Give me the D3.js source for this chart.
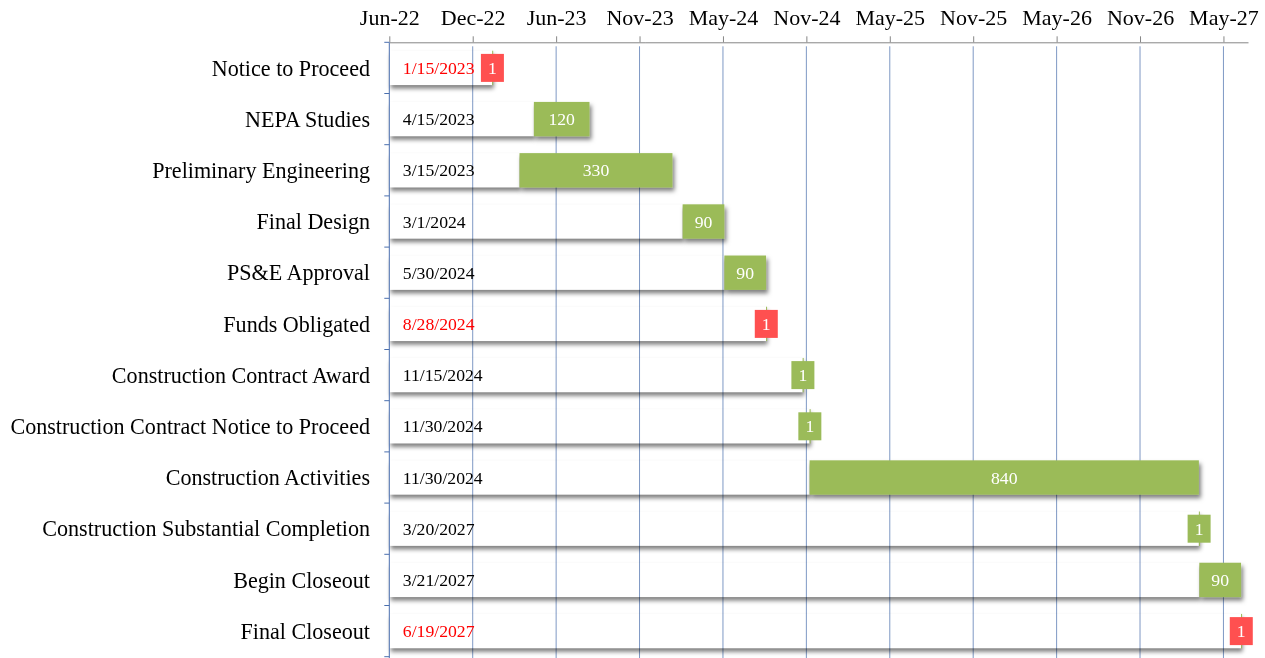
<!DOCTYPE html>
<html>
<head>
<meta charset="utf-8">
<script src="https://cdn.jsdelivr.net/npm/d3@7"></script>
<style>
  body { margin: 0; background: #fff; }
  svg { display: block; font-family: "Liberation Serif", "Times New Roman", serif; }
</style>
</head>
<body>
<svg id="chart" width="1265" height="658"></svg>
<script>
// Tasks, start dates and durations (days)
const tasks = [
    'Notice to Proceed',
    'NEPA Studies',
    'Preliminary Engineering',
    'Final Design',
    'PS&E Approval',
    'Funds Obligated',
    'Construction Contract Award',
    'Construction Contract Notice to Proceed',
    'Construction Activities',
    'Construction Substantial Completion',
    'Begin Closeout',
    'Final Closeout'
];
const startDates = [
    '1/15/2023', '4/15/2023', '3/15/2023', '3/1/2024', '5/30/2024', '8/28/2024',
    '11/15/2024', '11/30/2024', '11/30/2024', '3/20/2027', '3/21/2027', '6/19/2027'
];
const durations = [1, 120, 330, 90, 90, 1, 1, 1, 840, 1, 90, 1];
// milestones flagged in red
const milestones = ['Notice to Proceed', 'Funds Obligated', 'Final Closeout'];

const tickLabels = ['Jun-22', 'Dec-22', 'Jun-23', 'Nov-23', 'May-24', 'Nov-24',
    'May-25', 'Nov-25', 'May-26', 'Nov-26', 'May-27'];
const axisStart = '6/7/2022';
const tickStepDays = 180;
const axisSpanDays = 1853;

const parseDate = d3.utcParse('%m/%d/%Y');
const rows = tasks.map((t, i) => ({
    task: t,
    label: startDates[i],
    start: parseDate(startDates[i]),
    end: d3.utcDay.offset(parseDate(startDates[i]), durations[i]),
    dur: durations[i],
    red: milestones.includes(t)
}));

const margin = { left: 389.3, top: 42.3, right: 1248, bottom: 656.7 };
const minDate = parseDate(axisStart);
const x = d3.scaleUtc()
    .domain([minDate, d3.utcDay.offset(minDate, axisSpanDays)])
    .range([margin.left, margin.right]);
const y = d3.scaleBand()
    .domain(tasks)
    .range([margin.top, margin.bottom])
    .paddingInner(0.329)
    .paddingOuter(0.1645);
const step = y.step();
const tickDates = tickLabels.map((_, i) => d3.utcDay.offset(minDate, i * tickStepDays));

const GREEN = '#9BBB59';
const RED = '#FF5050';

const svg = d3.select('#chart');
const defs = svg.append('defs');

defs.append('filter')
    .attr('id', 'shadow')
    .attr('x', '-20%').attr('y', '-30%')
    .attr('width', '140%').attr('height', '170%')
    .append('feDropShadow')
    .attr('dx', 2).attr('dy', 3.5)
    .attr('stdDeviation', 2.2)
    .attr('flood-color', '#000')
    .attr('flood-opacity', 0.5);

defs.append('filter')
    .attr('id', 'blur')
    .attr('x', '-10%').attr('y', '-40%')
    .attr('width', '120%').attr('height', '180%')
    .append('feGaussianBlur')
    .attr('stdDeviation', 2.2);

// mask so the "invisible" start bars only show their outer shadow
const mask = defs.append('mask').attr('id', 'hole');
mask.append('rect')
    .attr('x', 0).attr('y', 0).attr('width', 1265).attr('height', 658)
    .attr('fill', '#fff');
mask.selectAll('rect.hole')
    .data(rows)
    .enter().append('rect')
    .attr('class', 'hole')
    .attr('x', x(minDate))
    .attr('y', d => y(d.task))
    .attr('width', d => x(d.start) - x(minDate))
    .attr('height', y.bandwidth())
    .attr('fill', '#000');

// vertical gridlines
svg.append('g')
    .selectAll('line')
    .data(tickDates.slice(1))
    .enter().append('line')
    .attr('x1', d => x(d)).attr('x2', d => x(d))
    .attr('y1', margin.top + 4).attr('y2', margin.bottom + 2)
    .attr('stroke', '#7E98C4')
    .attr('stroke-width', 1);

// shadows of the start bars
svg.append('g')
    .attr('mask', 'url(#hole)')
    .selectAll('rect')
    .data(rows)
    .enter().append('rect')
    .attr('x', x(minDate) + 1.5)
    .attr('y', d => y(d.task) + 3.5)
    .attr('width', d => x(d.start) - x(minDate))
    .attr('height', y.bandwidth())
    .attr('fill', '#000')
    .attr('opacity', 0.5)
    .attr('filter', 'url(#blur)');

// duration bars
svg.append('g')
    .selectAll('rect')
    .data(rows)
    .enter().append('rect')
    .attr('x', d => x(d.start))
    .attr('y', d => y(d.task))
    .attr('width', d => Math.max(1, x(d.end) - x(d.start)))
    .attr('height', y.bandwidth())
    .attr('fill', GREEN)
    .attr('filter', d => d.dur > 1 ? 'url(#shadow)' : null);

// label boxes for one-day bars
const boxW = 23, boxH = 28;
const oneDay = rows.filter(d => d.dur === 1);
svg.append('g')
    .selectAll('rect')
    .data(oneDay)
    .enter().append('rect')
    .attr('x', d => (x(d.start) + x(d.end)) / 2 - boxW / 2)
    .attr('y', d => y(d.task) + y.bandwidth() / 2 - boxH / 2)
    .attr('width', boxW)
    .attr('height', boxH)
    .attr('fill', d => d.red ? RED : GREEN);

// duration labels
svg.append('g')
    .selectAll('text')
    .data(rows)
    .enter().append('text')
    .attr('x', d => (x(d.start) + x(d.end)) / 2)
    .attr('y', d => y(d.task) + y.bandwidth() / 2)
    .attr('dy', '0.35em')
    .attr('text-anchor', 'middle')
    .attr('font-size', 17.7)
    .attr('fill', '#fff')
    .text(d => d.dur);

// start date labels
svg.append('g')
    .selectAll('text')
    .data(rows)
    .enter().append('text')
    .attr('x', margin.left + 13.5)
    .attr('y', d => y(d.task) + y.bandwidth() / 2)
    .attr('dy', '0.35em')
    .attr('font-size', 17.7)
    .attr('fill', d => d.red ? '#FF0000' : '#000')
    .text(d => d.label);

// top date axis
const xAxis = d3.axisTop(x)
    .tickValues(tickDates)
    .tickFormat((d, i) => tickLabels[i])
    .tickSize(6)
    .tickSizeOuter(0)
    .tickPadding(11);
const gx = svg.append('g')
    .attr('transform', `translate(0,${margin.top})`)
    .call(xAxis);
gx.select('.domain').attr('stroke', '#868686');
gx.selectAll('.tick line').attr('stroke', '#868686');
gx.selectAll('.tick text')
    .attr('font-family', '"Liberation Serif", "Times New Roman", serif')
    .attr('font-size', 22)
    .attr('fill', '#000');

// left category axis
const gy = svg.append('g');
gy.append('line')
    .attr('x1', margin.left).attr('x2', margin.left)
    .attr('y1', margin.top).attr('y2', 658)
    .attr('stroke', '#4A6FAE');
gy.selectAll('line.tk')
    .data(d3.range(tasks.length + 1))
    .enter().append('line')
    .attr('class', 'tk')
    .attr('x1', margin.left - 5).attr('x2', margin.left)
    .attr('y1', i => margin.top + i * step)
    .attr('y2', i => margin.top + i * step)
    .attr('stroke', '#4A6FAE');
gy.selectAll('text')
    .data(tasks)
    .enter().append('text')
    .attr('x', 370)
    .attr('y', d => y(d) + y.bandwidth() / 2)
    .attr('dy', '0.35em')
    .attr('text-anchor', 'end')
    .attr('font-size', 22.1)
    .attr('fill', '#000')
    .text(d => d);
</script>
</body>
</html>
